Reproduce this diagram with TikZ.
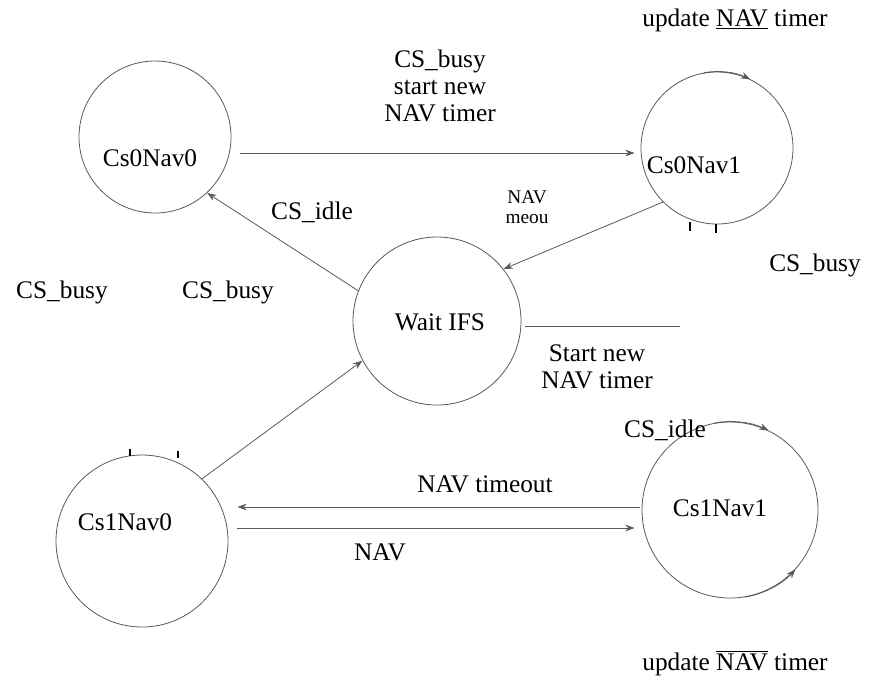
\documentclass[tikz,border=0pt]{standalone}
\usepackage{fontspec}
\setmainfont{Liberation Serif}
\usetikzlibrary{calc,arrows.meta}
\begin{document}
\begin{tikzpicture}[x=0.75pt,y=-0.75pt,
  st/.style={circle,draw=black!65,line width=0.6pt,minimum size=#1,inner sep=0pt},
  txt/.style={font=\fontsize{19}{20}\selectfont,inner sep=0pt,align=center},
  small/.style={font=\fontsize{14.5}{15}\selectfont,inner sep=0pt,align=center},
  arr/.style={draw=black!65,line width=0.6pt,-{Stealth[length=7pt,width=5pt]}},
  ln/.style={draw=black!65,line width=0.6pt},
  tick/.style={draw=black,line width=1.2pt}
  ]
\useasboundingbox (0,0) rectangle (877,687);
% states
\node[st=114pt] (c00) at (155,137) {};
\node[st=114pt] (c01) at (717,148) {};
\node[st=126pt] (wifs) at (437,321) {};
\node[st=129pt] (c10) at (142,541) {};
\node[st=132pt] (c11) at (730,510) {};
% state names
\node[txt] (t00) at (150,158) {Cs0Nav0};
\node[txt] (t01) at (694,165) {Cs0Nav1};
\node[txt] (tw) at (440,322) {Wait IFS};
\node[txt] (t10) at (125,522) {Cs1Nav0};
\node[txt] (t11) at (720,508) {Cs1Nav1};
% connectors
\draw[arr] ($(c00.east)+(9,16)$) -- ($(c01.west)+(-6,5)$);
\draw[arr] (c01.-135) -- (wifs.38);
\draw[arr] (wifs.159) -- (c00.-47);
\draw[arr] (c10.46) -- (wifs.-152);
\draw[arr] ($(c11.west)+(-2,-3)$) -- ($(c10.east)+(9,-34)$);
\draw[arr] ($(c10.east)+(9,-13)$) -- ($(c11.west)+(-7,18)$);
% self-loop arrowheads on the circles
\draw[arr] (c01.100) arc[start angle=100,end angle=64,radius=57pt];
\draw[arr] (c11.100) arc[start angle=100,end angle=64,radius=66pt];
\draw[arr] (c11.-80) arc[start angle=-80,end angle=-42,radius=66pt];
\coordinate (k1a) at (690,222); \coordinate (k1b) at (690,231);
\coordinate (k2a) at (716,224); \coordinate (k2b) at (716,233);
\draw[tick] (k1a) -- (k1b); \draw[tick] (k2a) -- (k2b);
\coordinate (k3a) at (130,449); \coordinate (k3b) at (130,456);
\coordinate (k4a) at (178,451); \coordinate (k4b) at (178,458);
\draw[tick] (k3a) -- (k3b); \draw[tick] (k4a) -- (k4b);
% bar over Start new label
\coordinate (h1) at (525,326); \coordinate (h2) at (680,326);
\draw[ln] (h1) -- (h2);
% labels
\node[txt] (l1) at (735,20) {update \underline{NAV} timer};
\node[txt] (l2) at (440,86) {CS\_busy\\start new\\NAV timer};
\node[txt] (l3) at (312,212) {CS\_idle};
\node[small] (l4) at (527,207) {NAV\\meou};
\node[txt] (l5) at (815,265) {CS\_busy};
\node[txt] (l6) at (62,292) {CS\_busy};
\node[txt] (l7) at (228,292) {CS\_busy};
\node[txt] (l8) at (597,367) {Start new\\NAV timer};
\node[txt] (l9) at (665,430) {CS\_idle};
\node[txt] (l10) at (485,484) {NAV timeout};
\node[txt] (l11) at (380,552) {NAV};
\node[txt] (l12) at (735,663) {update $\overline{\mbox{NAV}}$ timer};
\end{tikzpicture}
\end{document}
